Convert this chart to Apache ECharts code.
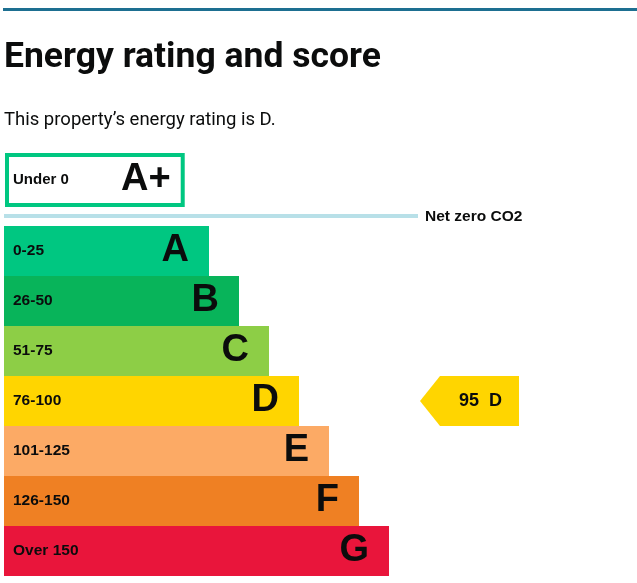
<!DOCTYPE html>
<html>
<head>
<meta charset="utf-8">
<title>Energy rating and score</title>
<script src="https://cdn.jsdelivr.net/npm/echarts@6/dist/echarts.min.js"></script>
<style>
    html, body { margin: 0; padding: 0; background: #fff; }
    #chart { width: 637px; height: 583px; }
</style>
</head>
<body>
<div id="chart"></div>
<script>
// Bands, their score ranges, colours and drawn bar lengths (px on a 1:1 axis)
const bands = ['A', 'B', 'C', 'D', 'E', 'F', 'G'];
const bandRanges = ['0-25', '26-50', '51-75', '76-100', '101-125', '126-150', 'Over 150'];
const bandMin = [0, 26, 51, 76, 101, 126, 151];
const bandColors = ['#00c781', '#08b45a', '#8dce46', '#ffd500', '#fcaa65', '#ef8023', '#e9153b'];
const bandLengths = [205, 235, 265, 295, 325, 355, 385];

// The A+ band sits above the net zero line
const topBand = 'A+';
const topBandRange = 'Under 0';
const topBandLength = 180;

// This property's score
const currentScore = 95;
const pointerX = 416; // column where the pointer arrow sits

const labelFont = 'Liberation Sans, Arial, sans-serif';

function bandForScore(score) {
    let idx = 0;
    bandMin.forEach((min, i) => {
        if (score >= min) idx = i;
    });
    return bands[idx];
}

const currentBand = bandForScore(currentScore);

const chart = echarts.init(document.getElementById('chart'), null, { renderer: 'canvas' });

const hiddenValueAxis = (gridIndex) => ({
    type: 'value',
    gridIndex: gridIndex,
    min: 0,
    max: 633,
    show: false
});

const option = {
    animation: false,
    title: [
        {
            text: 'Energy rating and score',
            left: 4,
            top: 40,
            padding: 0,
            textStyle: {
                fontFamily: 'Roboto',
                fontWeight: 'bold',
                fontSize: 35.5,
                color: '#0b0c0c'
            }
        },
        {
            text: 'This property\u2019s energy rating is ' + currentBand + '.',
            left: 4,
            top: 111,
            padding: 0,
            textStyle: {
                fontFamily: 'Roboto',
                fontWeight: 'normal',
                fontSize: 18.5,
                color: '#0b0c0c'
            }
        }
    ],
    grid: [
        { left: 5, top: 153, width: 633, height: 54 },
        { left: 4, top: 226, width: 633, height: 350 }
    ],
    xAxis: [hiddenValueAxis(0), hiddenValueAxis(1)],
    yAxis: [
        {
            type: 'category',
            gridIndex: 0,
            data: [topBand],
            axisLine: { show: false },
            axisTick: { show: false },
            axisLabel: {
                inside: true,
                margin: 8,
                formatter: () => topBandRange,
                fontFamily: labelFont,
                fontWeight: 'bold',
                fontSize: 15,
                color: '#0b0c0c'
            },
            z: 5
        },
        {
            type: 'category',
            gridIndex: 1,
            data: bands,
            inverse: true,
            axisLine: { show: false },
            axisTick: { show: false },
            axisLabel: {
                inside: true,
                margin: 9,
                formatter: (value) => bandRanges[bands.indexOf(value)],
                fontFamily: labelFont,
                fontWeight: 'bold',
                fontSize: 15.5,
                color: '#0b0c0c'
            },
            z: 5
        }
    ],
    graphic: [
        {
            type: 'rect',
            shape: { x: 3, y: 8, width: 634, height: 3 },
            style: { fill: '#1d6f91' }
        },
        {
            type: 'rect',
            shape: { x: 4, y: 214, width: 414, height: 4 },
            style: { fill: '#b8e0e8' }
        },
        {
            type: 'text',
            left: 425,
            top: 209,
            style: {
                text: 'Net zero CO2',
                fontFamily: labelFont,
                fontWeight: 'bold',
                fontSize: 15.5,
                fill: '#0b0c0c'
            }
        }
    ],
    series: [
        {
            type: 'bar',
            xAxisIndex: 0,
            yAxisIndex: 0,
            barWidth: '100%',
            data: [topBandLength],
            itemStyle: {
                color: '#ffffff',
                borderColor: bandColors[0],
                borderWidth: 4
            },
            label: {
                show: true,
                position: 'insideRight',
                distance: 14,
                formatter: topBand,
                fontFamily: labelFont,
                fontWeight: 'bold',
                fontSize: 38,
                color: '#0b0c0c'
            },
            silent: true
        },
        {
            type: 'bar',
            xAxisIndex: 1,
            yAxisIndex: 1,
            barWidth: '100%',
            data: bandLengths.map((len, i) => ({
                value: len,
                itemStyle: { color: bandColors[i] }
            })),
            label: {
                show: true,
                position: 'insideRight',
                distance: 20,
                formatter: (params) => bands[params.dataIndex],
                fontFamily: labelFont,
                fontWeight: 'bold',
                fontSize: 38,
                color: '#0b0c0c'
            },
            silent: true
        },
        {
            type: 'custom',
            xAxisIndex: 1,
            yAxisIndex: 1,
            data: [[currentScore, bands.indexOf(currentBand)]],
            renderItem: function (params, api) {
                const pos = api.coord([pointerX, api.value(1)]);
                const h = api.size([0, 1])[1];
                const x0 = pos[0];
                const top = pos[1] - h / 2;
                const bottom = pos[1] + h / 2;
                const bodyX = x0 + 20;
                const bodyW = 79;
                const color = bandColors[api.value(1)];
                return {
                    type: 'group',
                    children: [
                        {
                            type: 'polygon',
                            shape: {
                                points: [
                                    [x0, pos[1]],
                                    [bodyX, top],
                                    [bodyX + bodyW, top],
                                    [bodyX + bodyW, bottom],
                                    [bodyX, bottom]
                                ]
                            },
                            style: { fill: color }
                        },
                        {
                            type: 'text',
                            x: bodyX + bodyW / 2 + 1,
                            y: pos[1],
                            style: {
                                text: api.value(0) + '  ' + currentBand,
                                align: 'center',
                                verticalAlign: 'middle',
                                fontFamily: labelFont,
                                fontWeight: 'bold',
                                fontSize: 18,
                                fill: '#0b0c0c'
                            }
                        }
                    ]
                };
            },
            silent: true,
            z: 3
        }
    ]
};

chart.setOption(option);
window.addEventListener('resize', () => chart.resize());
</script>
</body>
</html>
